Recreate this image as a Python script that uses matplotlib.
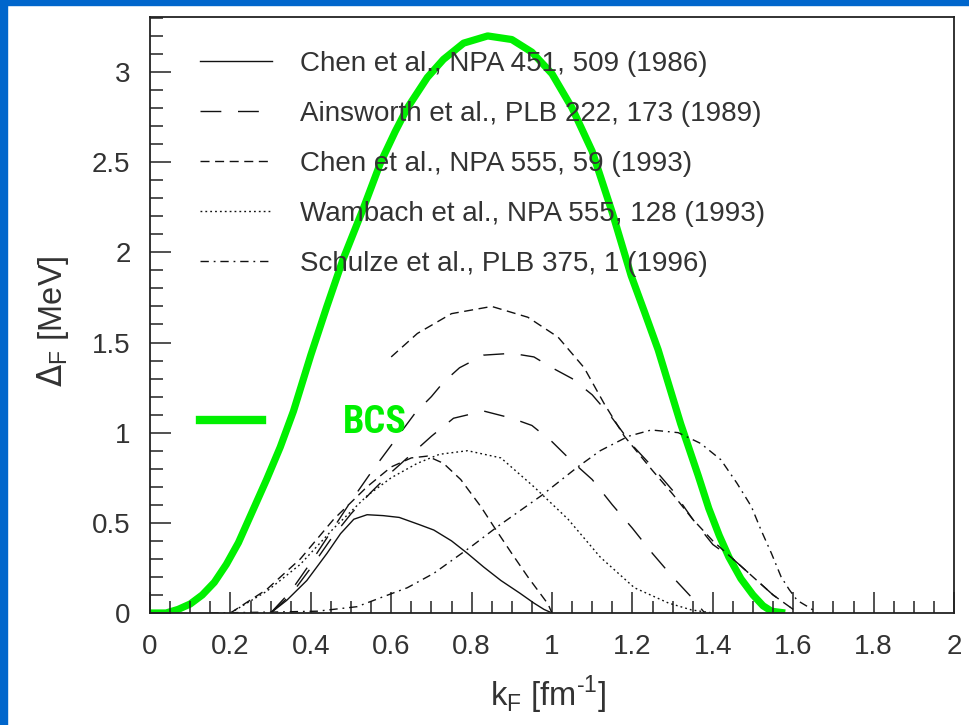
import matplotlib
matplotlib.use("Agg")
import matplotlib.pyplot as plt
from matplotlib import font_manager as fm
from matplotlib.lines import Line2D
from matplotlib.ticker import MultipleLocator

plt.rcParams["font.family"] = ["Liberation Sans", "DejaVu Sans"]
plt.rcParams["lines.scale_dashes"] = False

# ---- data (k_F in fm^-1, gap in MeV) ----
bcs_k = [0, 0.04, 0.07, 0.1, 0.13, 0.16, 0.19, 0.22, 0.25, 0.29, 0.324, 0.357, 0.4, 0.44,
         0.48, 0.53, 0.574, 0.61, 0.64, 0.69, 0.73, 0.78, 0.84, 0.9, 0.95, 1.0, 1.05, 1.1,
         1.15, 1.197, 1.23, 1.264, 1.32, 1.364, 1.39, 1.416, 1.44, 1.47, 1.5, 1.525, 1.546,
         1.58]
bcs_d = [0, 0.0, 0.02, 0.05, 0.1, 0.17, 0.27, 0.39, 0.54, 0.74, 0.92, 1.12, 1.43, 1.7,
         1.96, 2.24, 2.5, 2.67, 2.8, 2.97, 3.07, 3.16, 3.2, 3.18, 3.11, 2.99, 2.8, 2.56,
         2.22, 1.87, 1.67, 1.46, 1.05, 0.76, 0.58, 0.43, 0.31, 0.19, 0.1, 0.04, 0.01, 0]

chen86_k = [0.3, 0.34, 0.39, 0.44, 0.474, 0.507, 0.54, 0.58, 0.62, 0.67, 0.706, 0.75,
            0.79, 0.83, 0.873, 0.92, 0.955, 0.98, 1.0]
chen86_d = [0, 0.07, 0.18, 0.33, 0.44, 0.52, 0.545, 0.54, 0.53, 0.49, 0.46, 0.40,
            0.33, 0.255, 0.18, 0.11, 0.055, 0.02, 0]

ains_hi_k = [0.3, 0.35, 0.4, 0.45, 0.5, 0.55, 0.6, 0.66, 0.7, 0.73, 0.77, 0.83, 0.9,
             0.955, 1.0, 1.05, 1.1, 1.15, 1.2, 1.25, 1.3, 1.35, 1.4, 1.45, 1.5, 1.55, 1.6]
ains_hi_d = [0, 0.12, 0.28, 0.45, 0.62, 0.78, 0.93, 1.11, 1.2, 1.28, 1.36, 1.43, 1.44,
             1.42, 1.36, 1.3, 1.21, 1.08, 0.93, 0.81, 0.68, 0.52, 0.38, 0.3, 0.2, 0.1, 0.02]
ains_lo_k = [0.3, 0.35, 0.4, 0.45, 0.5, 0.55, 0.6, 0.64, 0.7, 0.755, 0.83, 0.9, 0.95,
             1.0, 1.05, 1.1, 1.15, 1.2, 1.25, 1.3, 1.35, 1.38]
ains_lo_d = [0, 0.1, 0.25, 0.41, 0.55, 0.67, 0.78, 0.86, 0.98, 1.08, 1.12, 1.08, 1.04,
             0.95, 0.84, 0.74, 0.6, 0.47, 0.33, 0.2, 0.08, 0]

chen93_hi_k = [0.6, 0.665, 0.75, 0.85, 0.94, 1.015, 1.08, 1.13, 1.18, 1.25, 1.3, 1.35,
               1.4, 1.45, 1.5, 1.55, 1.6]
chen93_hi_d = [1.42, 1.55, 1.66, 1.70, 1.64, 1.53, 1.36, 1.16, 0.98, 0.79, 0.66, 0.52,
               0.4, 0.3, 0.2, 0.1, 0.02]
chen93_lo_k = [0.2, 0.29, 0.374, 0.457, 0.54, 0.6, 0.65, 0.69, 0.73, 0.773, 0.823,
               0.855, 0.9, 0.94, 0.99, 1.0]
chen93_lo_d = [0, 0.13, 0.3, 0.52, 0.7, 0.81, 0.86, 0.87, 0.83, 0.74, 0.59,
               0.48, 0.33, 0.2, 0.05, 0]

wamb_k = [0.2, 0.29, 0.374, 0.457, 0.54, 0.6, 0.665, 0.72, 0.79, 0.873, 0.955,
          1.04, 1.12, 1.205, 1.29, 1.347, 1.4]
wamb_d = [0, 0.12, 0.27, 0.47, 0.65, 0.75, 0.83, 0.88, 0.9, 0.86, 0.7,
          0.52, 0.31, 0.14, 0.055, 0.017, 0]

schulze_k = [0.15, 0.3, 0.416, 0.515, 0.58, 0.64, 0.706, 0.8, 0.865, 0.973, 1.064, 1.12,
             1.19, 1.247, 1.314, 1.37, 1.42, 1.46, 1.496, 1.52, 1.546, 1.57, 1.59,
             1.61, 1.64, 1.66]
schulze_d = [0, 0.005, 0.01, 0.035, 0.09, 0.14, 0.22, 0.37, 0.48, 0.65, 0.81, 0.9,
             0.98, 1.015, 1.0, 0.94, 0.85, 0.72, 0.59, 0.46, 0.33, 0.2, 0.13,
             0.07, 0.03, 0]

labels = [
    "Chen et al., NPA 451, 509 (1986)",
    "Ainsworth et al., PLB 222, 173 (1989)",
    "Chen et al., NPA 555, 59 (1993)",
    "Wambach et al., NPA 555, 128 (1993)",
    "Schulze et al., PLB 375, 1 (1996)",
]

# line styles (dash patterns in points)
LONG = (0, (15.0, 12.0))
SHORT = (0, (6.5, 4.0))
DOT = (0, (1.3, 2.2))
DASHDOT = (0, (6.0, 3.5, 1.3, 3.5))
INK = "#111111"
GREEN = "#00f000"


def narrow_bold():
    """A condensed bold face for the 'BCS' tag if one is installed."""
    for fam in ["Liberation Sans Narrow", "Roboto Condensed", "DejaVu Sans Condensed"]:
        try:
            fm.findfont(fm.FontProperties(family=fam, weight="bold"),
                        fallback_to_default=False)
            return fm.FontProperties(family=fam, weight="bold", size=27.5)
        except ValueError:
            pass
    return fm.FontProperties(family="DejaVu Sans", weight="bold", size=20.5)


fig = plt.figure(figsize=(9.69, 7.25), dpi=100)
fig.patch.set_facecolor("white")
# blue slide frame on the left and top
fig.patches.append(plt.Rectangle((0, 0), 7 / 969, 1, transform=fig.transFigure,
                                 color="#0066cc", zorder=0))
fig.patches.append(plt.Rectangle((0, 1 - 5 / 725), 1, 5 / 725, transform=fig.transFigure,
                                 color="#0066cc", zorder=0))

ax = fig.add_axes([150 / 969, 1 - 613 / 725, 804 / 969, 596 / 725])
ax.set_xlim(0, 2)
ax.set_ylim(0, 3.305)

ax.plot(bcs_k, bcs_d, color=GREEN, lw=5.2, solid_capstyle="butt",
        solid_joinstyle="round", zorder=1)

kw = dict(color=INK, lw=1.0)
ax.plot(chen86_k, chen86_d, ls="-", **kw)
ax.plot(ains_hi_k, ains_hi_d, ls=LONG, **kw)
ax.plot(ains_lo_k, ains_lo_d, ls=LONG, **kw)
ax.plot(chen93_hi_k, chen93_hi_d, ls=SHORT, **kw)
ax.plot(chen93_lo_k, chen93_lo_d, ls=SHORT, **kw)
ax.plot(wamb_k, wamb_d, ls=DOT, **kw)
ax.plot(schulze_k, schulze_d, ls=DASHDOT, **kw)

handles = [Line2D([], [], ls=s, **kw) for s in ["-", LONG, SHORT, DOT, DASHDOT]]
leg = ax.legend(handles, labels, loc="upper left", bbox_to_anchor=(0.062, 0.943),
                frameon=False, fontsize=20, handlelength=2.6, handletextpad=1.0,
                labelspacing=0.86, borderpad=0, borderaxespad=0, labelcolor="#333333")
ax.add_artist(leg)

bcs_prop = narrow_bold()
em = bcs_prop.get_size_in_points() * 100 / 72  # font size in pixels
bcs_handle = Line2D([], [], color=GREEN, lw=6)
ax.legend([bcs_handle], ["BCS"], loc="upper left", bbox_to_anchor=(0.062, 0.35),
          frameon=False, handlelength=62 / em, handletextpad=81 / em, borderpad=0,
          borderaxespad=0, labelcolor=GREEN, prop=bcs_prop)

# ROOT-like axes: ticks only bottom/left, pointing inwards
ax.xaxis.set_major_locator(MultipleLocator(0.2))
ax.xaxis.set_minor_locator(MultipleLocator(0.05))
ax.yaxis.set_major_locator(MultipleLocator(0.5))
ax.yaxis.set_minor_locator(MultipleLocator(0.1))
ax.tick_params(which="both", direction="in", top=False, right=False, colors="#222222",
               labelcolor="#333333", labelsize=20)
ax.tick_params(which="major", length=15, width=1.1)
ax.tick_params(axis="x", which="major", pad=15)
ax.tick_params(axis="y", which="major", pad=14)
ax.tick_params(which="minor", length=9, width=1.1)
ax.xaxis.set_major_formatter(plt.FuncFormatter(lambda v, p: f"{v:g}"))
ax.yaxis.set_major_formatter(plt.FuncFormatter(lambda v, p: f"{v:g}"))
for sp in ax.spines.values():
    sp.set_linewidth(1.3)
    sp.set_color("#222222")

ax.set_xlabel("k$_\\mathregular{F}$ [fm$^\\mathregular{\u2010 1}$]", fontsize=23.5,
              color="#333333", labelpad=10, x=0.495)
ax.set_ylabel("$\\Delta_\\mathregular{F}$ [MeV]", fontsize=23.5, color="#333333",
              labelpad=15, y=0.49)

fig.savefig("out.png", dpi=100)
